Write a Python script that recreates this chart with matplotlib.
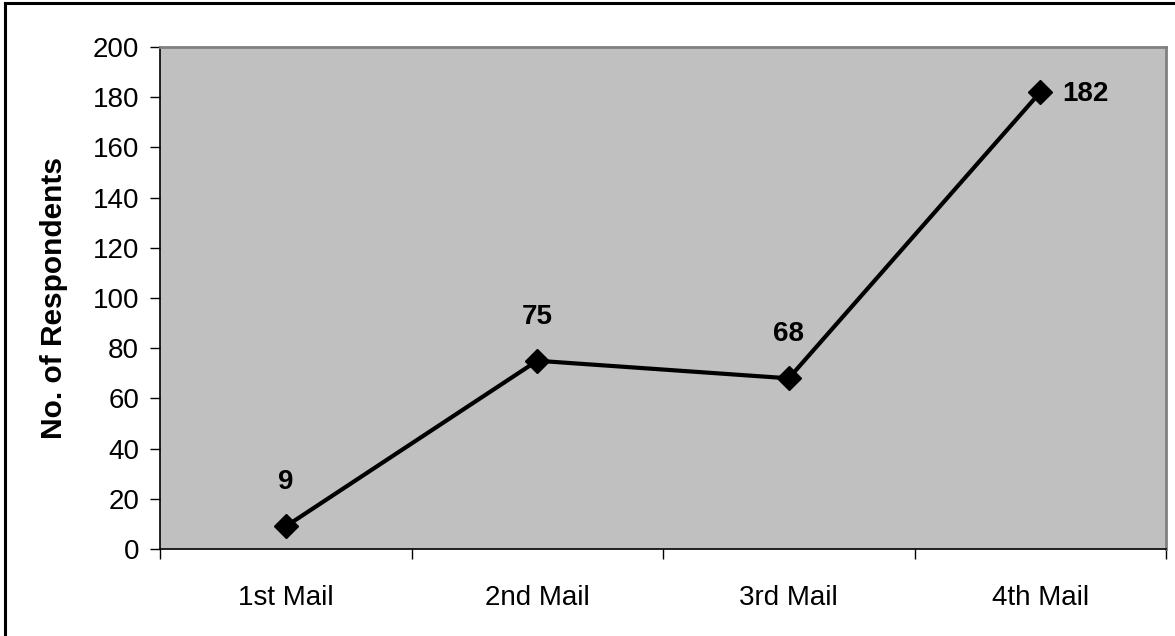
import matplotlib.pyplot as plt
from matplotlib.lines import Line2D
from matplotlib.ticker import FixedLocator, NullFormatter

plt.rcParams['font.family'] = ['Liberation Sans', 'DejaVu Sans']

categories = ['1st Mail', '2nd Mail', '3rd Mail', '4th Mail']
respondents = [9, 75, 68, 182]
yticks = list(range(0, 201, 20))

fig = plt.figure(figsize=(11.75, 6.36), dpi=100)
ax = fig.add_axes([160 / 1175, 1 - 549 / 636, 1006 / 1175, 502 / 636])
ax.set_facecolor('#C0C0C0')

xs = [i + 0.5 for i in range(len(categories))]
ax.plot(xs, respondents, color='black', linewidth=3, marker='D', markersize=12.5,
        markerfacecolor='black', markeredgecolor='black', zorder=3, clip_on=False)

# value labels next to each point
offsets = [(0, 44), (0, 44), (0, 44), (22, -2)]
for x, v, off in zip(xs, respondents, offsets):
    ha = 'center' if off[0] == 0 else 'left'
    ax.annotate(str(v), (x, v), xytext=off, textcoords='offset pixels',
                ha=ha, va='center', fontsize=20, fontweight='bold')

ax.set_xlim(0, 4)
ax.set_ylim(0, 200)
ax.set_yticks(yticks)
ax.tick_params(axis='y', direction='out', length=7, width=1, labelsize=20, pad=8)

# category boundaries get ticks, labels sit between them
ax.xaxis.set_major_locator(FixedLocator([0, 1, 2, 3, 4]))
ax.xaxis.set_major_formatter(NullFormatter())
ax.xaxis.set_minor_locator(FixedLocator(xs))
ax.set_xticklabels(categories, minor=True)
ax.tick_params(axis='x', which='major', direction='out', length=7, width=1)
ax.tick_params(axis='x', which='minor', length=0, labelsize=20, pad=26)

ax.set_ylabel('No. of Respondents', fontsize=21.5, fontweight='bold', labelpad=18)

for side in ['left', 'bottom']:
    ax.spines[side].set_color('black')
    ax.spines[side].set_linewidth(1.2)
for side in ['top', 'right']:
    ax.spines[side].set_color('#808080')
    ax.spines[side].set_linewidth(2)

# chart border
fig.add_artist(Line2D([5 / 1175, 5 / 1175], [0, 1 - 3 / 636], color='black', linewidth=2.2))
fig.add_artist(Line2D([5 / 1175, 1], [1 - 3 / 636, 1 - 3 / 636], color='black', linewidth=2.2))

fig.savefig('out.png', dpi=100)
